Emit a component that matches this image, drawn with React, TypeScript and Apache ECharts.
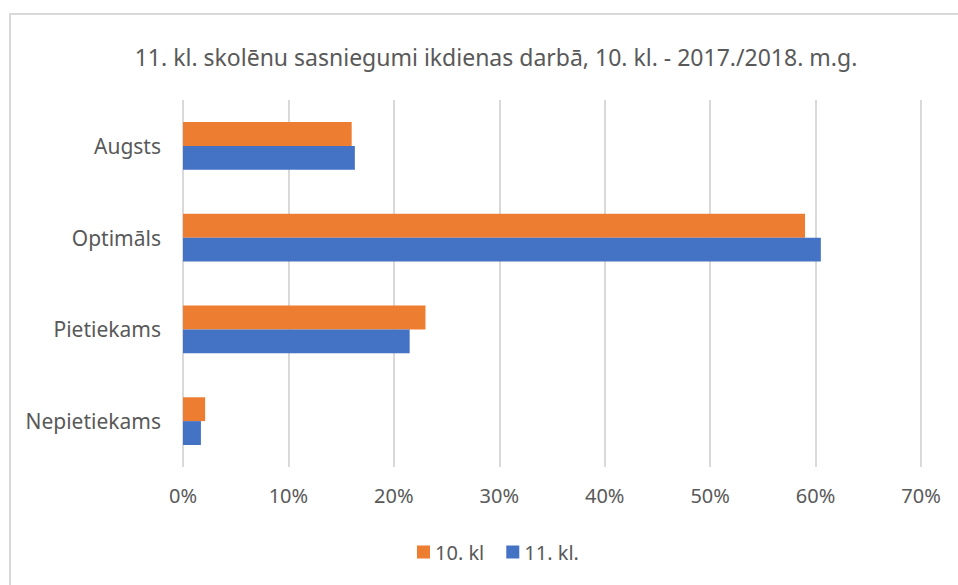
import React, { useEffect, useRef } from "react";
import * as echarts from "echarts";

const categories = ["Nepietiekams", "Pietiekams", "Optimāls", "Augsts"];
const series10 = [0.021, 0.23, 0.59, 0.16];
const series11 = [0.017, 0.215, 0.605, 0.163];
const seriesNames = ["10. kl", "11. kl."];
const titleText = "11. kl. skolēnu sasniegumi ikdienas darbā, 10. kl. - 2017./2018. m.g.";

const FONT = "Noto Sans";
const TEXT = "#595959";

export default function App() {
  const ref = useRef<HTMLDivElement>(null);
  useEffect(() => {
    if (!ref.current) return;
    const chart = echarts.init(ref.current, undefined, { renderer: "svg" });
    chart.setOption({
      animation: false,
      backgroundColor: "#ffffff",
      graphic: [
        {
          type: "rect",
          shape: { x: 10, y: 14, width: 1000, height: 700 },
          style: { fill: "none", stroke: "#D9D9D9", lineWidth: 2 },
          silent: true,
        },
      ],
      title: {
        text: titleText,
        left: 491,
        top: 40,
        textAlign: "center",
        textStyle: { fontFamily: FONT, fontSize: 23, fontWeight: "normal", color: TEXT },
      },
      legend: {
        bottom: 18,
        left: 412,
        icon: "rect",
        itemWidth: 13,
        itemHeight: 13,
        itemGap: 22,
        textStyle: { fontFamily: FONT, fontSize: 20, color: TEXT },
        data: seriesNames,
      },
      grid: { left: 183, right: 37, top: 100, bottom: 118, containLabel: false },
      xAxis: {
        type: "value",
        min: 0,
        max: 0.7,
        interval: 0.1,
        axisLine: { show: false },
        axisTick: { show: false },
        splitLine: { lineStyle: { color: "#D9D9D9", width: 2 } },
        axisLabel: {
          margin: 18,
          fontFamily: FONT,
          fontSize: 20,
          color: TEXT,
          formatter: (v: number) => Math.round(v * 100) + "%",
        },
      },
      yAxis: {
        type: "category",
        data: categories,
        axisLine: { show: false },
        axisTick: { show: false },
        axisLabel: { margin: 22, fontFamily: FONT, fontSize: 21, color: TEXT },
      },
      series: [
        {
          name: seriesNames[0],
          type: "bar",
          data: series10,
          itemStyle: { color: "#ED7D31" },
          barGap: "0%",
          barCategoryGap: "48%",
        },
        {
          name: seriesNames[1],
          type: "bar",
          data: series11,
          itemStyle: { color: "#4472C4" },
          barGap: "0%",
          barCategoryGap: "48%",
        },
      ],
    });
    return () => chart.dispose();
  }, []);
  return (
    <div
      ref={ref}
      style={{ position: "fixed", left: 0, top: 0, width: 958, height: 585 }}
    />
  );
}
